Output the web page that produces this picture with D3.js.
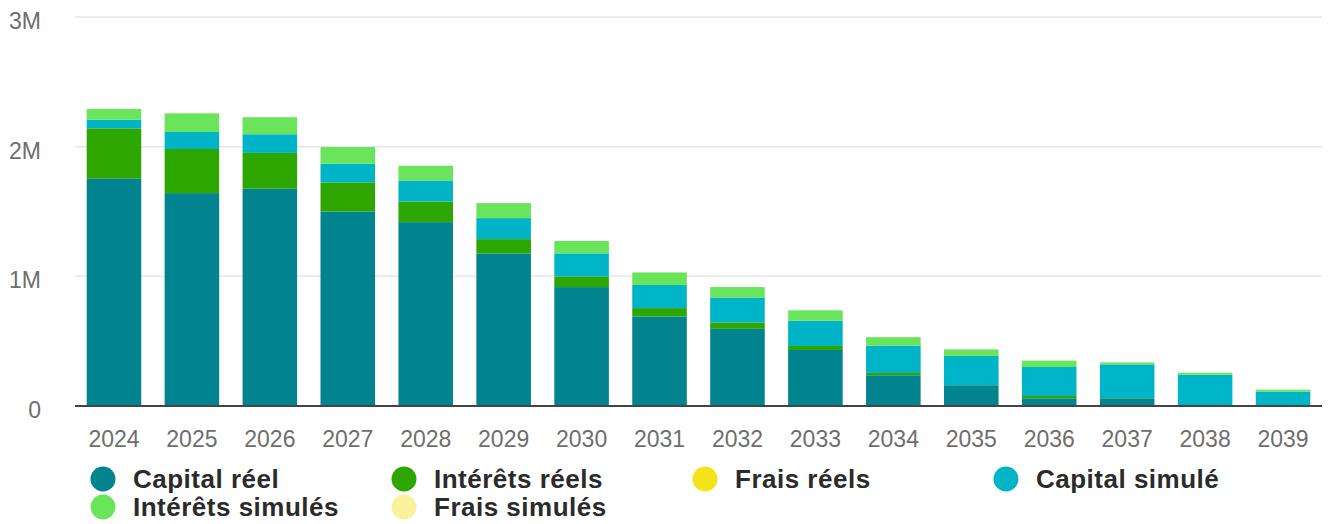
<!DOCTYPE html>
<html>
<head>
<meta charset="utf-8">
<script src="https://cdn.jsdelivr.net/npm/d3@7"></script>
<style>
  body { margin: 0; background: #fff; }
  text { font-family: "Liberation Sans", Arial, sans-serif; }
</style>
</head>
<body>
<div id="wrapper"></div>
<script>
// values in thousands of euros
const years = ["2024", "2025", "2026", "2027", "2028", "2029", "2030", "2031",
               "2032", "2033", "2034", "2035", "2036", "2037", "2038", "2039"];
const capitalReel     = [1755, 1642, 1676, 1500, 1418, 1176, 917, 690, 595, 432, 237, 160, 59, 59, 0, 0];
const interetsReels   = [386, 340, 276, 224, 159, 111, 82, 65, 49, 31, 18, 2, 18, 2, 0, 0];
const fraisReels      = [0, 0, 0, 0, 0, 0, 0, 0, 0, 0, 0, 0, 0, 0, 0, 0];
const capitalSimule   = [67, 131, 144, 144, 162, 162, 178, 178, 193, 195, 211, 224, 224, 260, 242, 111];
const interetsSimules = [83, 144, 131, 129, 114, 116, 96, 97, 80, 80, 65, 51, 49, 15, 15, 15];
const fraisSimules    = [0, 0, 0, 0, 0, 0, 0, 0, 0, 0, 0, 0, 0, 0, 0, 0];
const yTicks = [0, 1000, 2000, 3000];

const seriesNames = ["Capital réel", "Intérêts réels", "Frais réels",
                     "Capital simulé", "Intérêts simulés", "Frais simulés"];
const seriesValues = [capitalReel, interetsReels, fraisReels,
                      capitalSimule, interetsSimules, fraisSimules];
const colors = ["#01848f", "#2ea600", "#f4e21a", "#00b4c8", "#6ae45a", "#faf29b"];

const dimensions = { width: 1331, height: 524, left: 75, right: 1322, top: 17, bottom: 406 };

const table = years.map((y, i) => {
    const row = { year: y };
    seriesNames.forEach((s, j) => row[s] = seriesValues[j][i]);
    return row;
});

const stack = d3.stack().keys(seriesNames);
const stacked = stack(table);

const svg = d3.select("#wrapper")
    .append("svg")
    .attr("width", dimensions.width)
    .attr("height", dimensions.height);

const xScaler = d3.scaleBand()
    .domain(years)
    .range([dimensions.left, dimensions.right])
    .paddingInner(0.3)
    .paddingOuter(0.15);

const yScaler = d3.scaleLinear()
    .domain([0, 3000])
    .range([dimensions.bottom, dimensions.top]);

// gridlines
svg.append("g")
    .selectAll("line")
    .data(yTicks.slice(1))
    .join("line")
    .attr("x1", dimensions.left)
    .attr("x2", dimensions.right)
    .attr("y1", d => yScaler(d))
    .attr("y2", d => yScaler(d))
    .attr("stroke", "#e6e6e6")
    .attr("stroke-width", 1.5);

// y labels
svg.append("g")
    .selectAll("text")
    .data(yTicks)
    .join("text")
    .attr("x", 41)
    .attr("y", d => yScaler(d) + 12)
    .attr("text-anchor", "end")
    .attr("font-size", "23px")
    .attr("fill", "#6e6e6e")
    .text(d => d === 0 ? "0" : (d / 1000) + "M");

// bars
svg.append("g")
    .selectAll("g")
    .data(stacked)
    .join("g")
    .attr("fill", (d, i) => colors[i])
    .selectAll("rect")
    .data(d => d)
    .join("rect")
    .attr("x", d => xScaler(d.data.year))
    .attr("y", d => yScaler(d[1]))
    .attr("width", xScaler.bandwidth())
    .attr("height", d => yScaler(d[0]) - yScaler(d[1]));

// baseline
svg.append("line")
    .attr("x1", dimensions.left)
    .attr("x2", dimensions.right)
    .attr("y1", yScaler(0))
    .attr("y2", yScaler(0))
    .attr("stroke", "#444")
    .attr("stroke-width", 2);

// x labels
const xAxis = svg.append("g")
    .attr("transform", `translate(0,${dimensions.bottom})`)
    .call(d3.axisBottom(xScaler).tickSize(0).tickPadding(0));
xAxis.select(".domain").remove();
xAxis.selectAll("text")
    .attr("y", 41)
    .attr("dy", null)
    .attr("font-size", "23px")
    .attr("font-family", "Liberation Sans, Arial, sans-serif")
    .attr("fill", "#6e6e6e");

// legend
const legend = svg.append("g")
    .selectAll("g")
    .data(seriesNames)
    .join("g")
    .attr("transform", (d, i) => `translate(${103 + (i % 4) * 301},${i < 4 ? 479 : 507})`);

legend.append("circle")
    .attr("r", 12.5)
    .attr("fill", (d, i) => colors[i]);

legend.append("text")
    .attr("x", 30)
    .attr("y", 9)
    .attr("font-size", "26px")
    .attr("font-weight", "bold")
    .attr("letter-spacing", "0.5px")
    .attr("fill", "#2b2b2b")
    .text(d => d);
</script>
</body>
</html>
